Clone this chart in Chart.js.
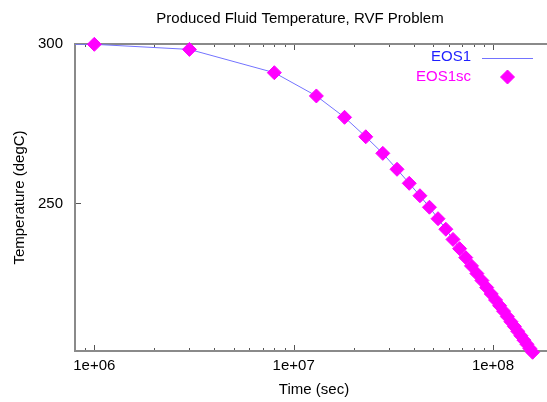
<!DOCTYPE html>
<html>
<head>
<meta charset="utf-8">
<script src="https://cdn.jsdelivr.net/npm/chart.js@4.4.1/dist/chart.umd.min.js"></script>
<style>
  html, body { margin: 0; padding: 0; background: #fff; overflow: hidden; }
  #wrap { width: 547px; height: 402px; overflow: hidden; }
</style>
</head>
<body>
<div id="wrap"><canvas id="tempChart" width="600" height="402"></canvas></div>
<script>
// Produced fluid temperature, RVF problem: EOS1 run (line) and EOS1sc run (diamonds)
const timeSec = [1e6, 3e6, 8e6, 1.3e7, 1.8e7, 2.3e7, 2.8e7, 3.3e7, 3.8e7, 4.3e7, 4.8e7,
  5.3e7, 5.8e7, 6.3e7, 6.8e7, 7.3e7, 7.8e7, 8.3e7, 8.8e7, 9.3e7, 9.8e7, 1.03e8, 1.08e8,
  1.13e8, 1.18e8, 1.23e8, 1.28e8, 1.33e8, 1.38e8, 1.43e8, 1.48e8, 1.53e8, 1.58e8];
const tempEos1sc = [299.9, 298.3, 291.0, 283.7, 277.0, 270.9, 265.7, 260.7, 256.3, 252.4, 248.8,
  245.2, 241.9, 238.7, 235.8, 233.0, 230.4, 228.0, 225.8, 223.6, 221.6, 219.7, 217.9,
  216.2, 214.5, 212.9, 211.4, 209.9, 208.5, 207.1, 205.8, 204.5, 203.3];

// EOS1 starts a bit earlier than the first EOS1sc output
const timeEos1 = [5e5].concat(timeSec);
const tempEos1 = [300.0].concat(tempEos1sc);

const xMajorTicks = [1e6, 1e7, 1e8];
const yTicks = [250, 300];
const xRange = [8e5, 2e8];
const yRange = [203.7, 300];

const FONT = 'Liberation Sans, Arial, Helvetica, sans-serif';
Chart.defaults.font.family = FONT;
Chart.defaults.font.size = 15;
Chart.defaults.color = '#000';

const toPoints = (xs, ys) => xs.map((t, i) => ({x: t, y: ys[i]}));

// gnuplot style frame with inward ticks (mirrored on top and right)
const frameTicks = {
  id: 'frameTicks',
  beforeDatasetsDraw(chart) {
    const {ctx, chartArea: a, scales: {x, y}} = chart;
    ctx.save();
    ctx.strokeStyle = '#555';
    ctx.lineWidth = 1;
    ctx.beginPath();
    for (let e = 5; e <= 8; e++) {
      for (let m = 1; m <= 9; m++) {
        const v = m * Math.pow(10, e);
        if (v <= xRange[0] || v >= xRange[1]) continue;
        const px = Math.round(x.getPixelForValue(v)) + 0.5;
        const len = m === 1 ? 6 : 3;
        ctx.moveTo(px, a.bottom); ctx.lineTo(px, a.bottom - len);
        ctx.moveTo(px, a.top); ctx.lineTo(px, a.top + len);
      }
    }
    yTicks.forEach(v => {
      const py = Math.round(y.getPixelForValue(v)) + 0.5;
      ctx.moveTo(a.left, py); ctx.lineTo(a.left + 6, py);
      ctx.moveTo(a.right, py); ctx.lineTo(a.right - 6, py);
    });
    ctx.stroke();
    ctx.strokeStyle = '#8a8a8a';
    ctx.lineWidth = 2;
    ctx.strokeRect(a.left, a.top, a.right - a.left, a.bottom - a.top);
    ctx.restore();
  }
};

// key in the top right: label right-aligned, sample to its right
const keyBox = {
  id: 'keyBox',
  afterDatasetsDraw(chart) {
    const {ctx, chartArea: a} = chart;
    const textRight = a.right - 82;
    const sampleX = a.right - 45.5;
    ctx.save();
    ctx.font = '15px ' + FONT;
    ctx.textAlign = 'right';
    ctx.textBaseline = 'middle';
    chart.data.datasets.forEach((ds, i) => {
      const yy = a.top + 13 + i * 20;
      ctx.fillStyle = ds.keyColor;
      ctx.fillText(ds.label, textRight, yy);
      if (ds.showLine) {
        ctx.strokeStyle = ds.borderColor;
        ctx.lineWidth = 1;
        ctx.beginPath();
        ctx.moveTo(sampleX - 25.5, yy + 1.5);
        ctx.lineTo(sampleX + 25.5, yy + 1.5);
        ctx.stroke();
      } else {
        const r = ds.pointRadius;
        ctx.fillStyle = ds.pointBackgroundColor;
        ctx.strokeStyle = ds.pointBorderColor;
        ctx.lineWidth = 1;
        ctx.beginPath();
        ctx.moveTo(sampleX - r, yy);
        ctx.lineTo(sampleX, yy - r);
        ctx.lineTo(sampleX + r, yy);
        ctx.lineTo(sampleX, yy + r);
        ctx.closePath();
        ctx.fill();
        ctx.stroke();
      }
    });
    ctx.restore();
  }
};

new Chart(document.getElementById('tempChart'), {
  type: 'scatter',
  data: {
    datasets: [{
      label: 'EOS1',
      data: toPoints(timeEos1, tempEos1),
      showLine: true,
      borderColor: '#7373ff',
      borderWidth: 1,
      pointRadius: 0,
      keyColor: '#1f1fff',
      order: 1
    }, {
      label: 'EOS1sc',
      data: toPoints(timeSec, tempEos1sc),
      showLine: false,
      pointStyle: 'rectRot',
      pointRadius: 7,
      pointBorderWidth: 1,
      pointBackgroundColor: '#ff00ff',
      pointBorderColor: '#ff00ff',
      keyColor: '#ff00ff',
      clip: false,
      order: 0
    }]
  },
  options: {
    responsive: false,
    animation: false,
    devicePixelRatio: 1,
    layout: {padding: 0},
    plugins: {
      legend: {display: false},
      tooltip: {enabled: false},
      title: {
        display: true,
        text: 'Produced Fluid Temperature, RVF Problem',
        font: {size: 15, weight: 'normal'},
        color: '#000',
        padding: {top: 10, bottom: 16}
      }
    },
    scales: {
      x: {
        type: 'logarithmic',
        min: xRange[0],
        max: xRange[1],
        grid: {display: false, drawTicks: false},
        border: {display: false},
        afterBuildTicks: s => { s.ticks = xMajorTicks.map(v => ({value: v})); },
        afterFit: s => { s.height = 51; },
        ticks: {
          padding: 6,
          autoSkip: false,
          maxRotation: 0,
          callback: v => '1e+' + String(Math.round(Math.log10(v))).padStart(2, '0')
        },
        title: {display: true, text: 'Time (sec)', padding: {top: 0, bottom: 3}}
      },
      y: {
        type: 'linear',
        min: yRange[0],
        max: yRange[1],
        grid: {display: false, drawTicks: false},
        border: {display: false},
        afterBuildTicks: s => { s.ticks = yTicks.map(v => ({value: v})); },
        afterFit: s => { s.width = 75; },
        ticks: {padding: 12, callback: v => String(v)},
        title: {display: true, text: 'Temperature (degC)', padding: {top: 11, bottom: 0}}
      },
      // mirror axis on the right border, no labels
      y2: {
        type: 'linear',
        position: 'right',
        min: yRange[0],
        max: yRange[1],
        grid: {display: false, drawTicks: false},
        border: {display: false},
        ticks: {display: false},
        afterFit: s => { s.width = 47; }
      }
    }
  },
  plugins: [frameTicks, keyBox]
});
</script>
</body>
</html>
